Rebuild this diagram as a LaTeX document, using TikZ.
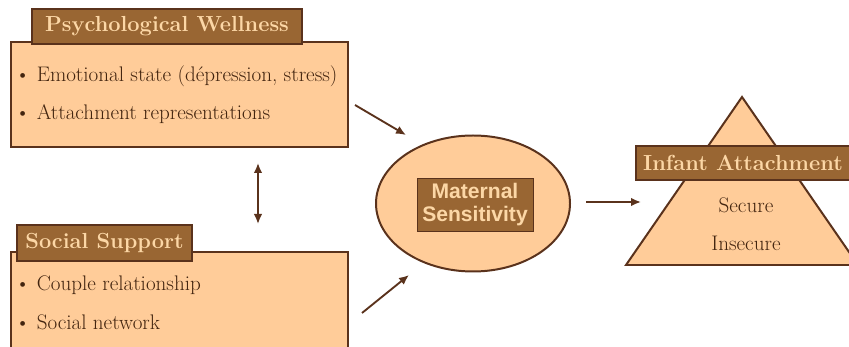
\documentclass[tikz,border=0pt]{standalone}
\usepackage{fontspec}
\newfontfamily\arialbold{Liberation Sans}[BoldFont={Liberation Sans Bold}]
\usetikzlibrary{arrows.meta, positioning, shapes.geometric}
\definecolor{peach}{HTML}{FFCC99}
\definecolor{bark}{HTML}{996633}
\definecolor{umber}{HTML}{5A321C}
\definecolor{ink}{HTML}{42240F}
\definecolor{cream}{HTML}{FCD7A6}
\tikzset{
    panel/.style={draw=umber, fill=peach, line width=1.7pt},
    tag/.style={draw=umber, fill=bark, line width=1.7pt, text=cream,
        font=\fontsize{18.6}{20}\selectfont\bfseries, inner sep=0pt},
    item/.style={anchor=west, text=ink, inner sep=0pt,
        font=\fontsize{18}{20}\selectfont},
    link/.style={draw=umber, line width=1.6pt, -{Latex[length=3mm, width=2.6mm]}},
}

\begin{document}
\begin{tikzpicture}[x=0.3mm, y=-0.3mm]
    \useasboundingbox (0,0) rectangle (849,347);

    % left panels
    \node[panel, anchor=north west, minimum width=101.1mm, minimum height=31.5mm] (pwbox) at (10,41) {};
    \node[tag, minimum width=81mm, minimum height=10.5mm] (pwtag) at (167,26.5) {Psychological Wellness};
    \node[item] (emo) at (15,76) {\textbullet\ Emotional state (dépression, stress)};
    \node[item] (rep) at (15,114) {\textbullet\ Attachment representations};

    \node[panel, anchor=north west, minimum width=101.1mm, minimum height=33mm] (ssbox) at (10,251) {};
    \node[tag, minimum width=52.5mm, minimum height=10.8mm] (sstag) at (104.5,243) {Social Support};
    \node[item] (cpl) at (15,285) {\textbullet\ Couple relationship};
    \node[item] (net) at (15,322) {\textbullet\ Social network};

    % centre
    \node[panel, ellipse, minimum width=58.2mm, minimum height=40.8mm] (ms) at (473,203.5) {};
    \node[draw=umber, fill=bark, line width=0.8pt, text=cream, align=center,
        minimum width=34.8mm, minimum height=15.9mm, inner sep=0pt,
        font=\arialbold\fontsize{18}{19}\selectfont\bfseries] (mslabel) at (475,204.5) {Maternal\\Sensitivity};

    % right
    \coordinate (apex) at (742,97);
    \coordinate (baseL) at (626,265);
    \coordinate (baseR) at (858,265);
    \draw[panel] (apex) -- (baseL) -- (baseR) -- cycle;
    \node[tag, minimum width=64.2mm, minimum height=10.2mm] (iatag) at (743,163) {Infant Attachment};
    \node[item, anchor=center] (sec) at (746,205) {Secure};
    \node[item, below=11.4mm of sec.center, anchor=center] (insec) {Insecure};

    % connectors
    \coordinate (pwout) at (355,105);
    \coordinate (msin1) at (406,135);
    \coordinate (ssout) at (362,313);
    \coordinate (msin2) at (409,275);
    \coordinate (msout) at (586,202);
    \coordinate (iain) at (641,202);
    \coordinate (up) at (258,163);
    \coordinate (down) at (258,224);

    \draw[link] (pwout) -- (msin1);
    \draw[link] (ssout) -- (msin2);
    \draw[link] (msout) -- (iain);
    \draw[link, {Latex[length=3mm, width=2.6mm]}-{Latex[length=3mm, width=2.6mm]}] (up) -- (down);
\end{tikzpicture}
\end{document}
